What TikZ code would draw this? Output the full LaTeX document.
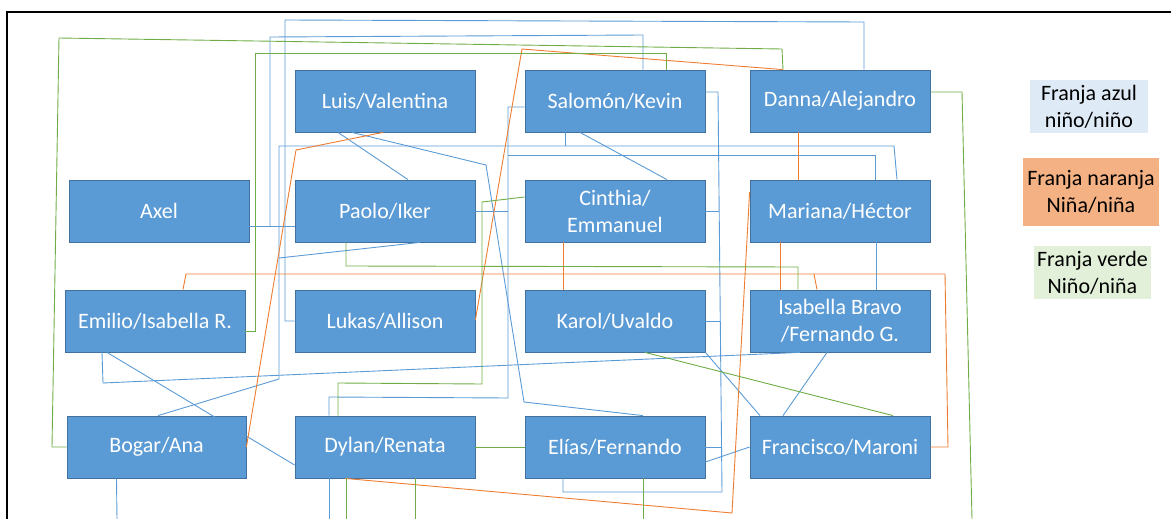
\documentclass[tikz,border=0pt]{standalone}
\usepackage{fontspec}
\setmainfont{Carlito}
\definecolor{boxblue}{HTML}{5B9BD5}
\definecolor{boxedge}{HTML}{41719C}
\definecolor{lblue}{HTML}{5B9BD5}
\definecolor{lorange}{HTML}{ED7D31}
\definecolor{lgreen}{HTML}{70AD47}
\definecolor{legblue}{HTML}{DEEBF7}
\definecolor{legorange}{HTML}{F4B183}
\definecolor{leggreen}{HTML}{E2F0D9}
\tikzset{
  person/.style={rectangle, fill=boxblue, draw=boxedge, line width=0.8pt, text=white,
    minimum width=180pt, minimum height=62pt, inner sep=0pt, align=center,
    font=\fontsize{22}{27}\selectfont},
  legend/.style={rectangle, inner sep=0pt, align=center, text=black,
    font=\fontsize{22}{27}\selectfont},
  bl/.style={draw=lblue, line width=0.9pt},
  ol/.style={draw=lorange, line width=0.9pt},
  gl/.style={draw=lgreen, line width=0.9pt},
}
\begin{document}
\begin{tikzpicture}[x=1pt,y=-1pt]
\useasboundingbox (0,0) rectangle (1171,519);
\draw[line width=2pt] (7,519) -- (7,12) -- (1171,12);

% boxes
\node[person] (luis) at (385,101) {Luis/Valentina};
\node[person] (salo) at (615,101) {Salomón/Kevin};
\node[person] (danna) at (840,101) {Danna/Alejandro};
\node[person] (axel) at (159,211) {Axel};
\node[person] (paolo) at (385,211) {Paolo/Iker};
\node[person] (cinthia) at (615,211) {Cinthia/\\Emmanuel};
\node[person] (mariana) at (840,211) {Mariana/Héctor};
\node[person] (emilio) at (155,321) {Emilio/Isabella R.};
\node[person] (lukas) at (385,321) {Lukas/Allison};
\node[person] (karol) at (615,321) {Karol/Uvaldo};
\node[person] (isabella) at (840,321) {Isabella Bravo\\/Fernando G.};
\node[person, minimum width=179pt] (bogar) at (156.5,447) {Bogar/Ana};
\node[person] (dylan) at (385,447) {Dylan/Renata};
\node[person] (elias) at (615,447) {Elías/Fernando};
\node[person] (francisco) at (840,447) {Francisco/Maroni};

% legend
\node[legend, fill=legblue, minimum width=118pt, minimum height=53pt] (lazul) at (1089,106.5) {Franja azul\\niño/niño};
\node[legend, fill=legorange, minimum width=136pt, minimum height=68pt] (lnar) at (1091,192) {Franja naranja\\Niña/niña};
\node[legend, fill=leggreen, minimum width=117pt, minimum height=53pt] (lver) at (1092.5,272.5) {Franja verde\\Niño/niña};

% free ends and junctions
\coordinate (offA) at (117,519);
\coordinate (offB) at (329,519);
\coordinate (offC) at (346,519);
\coordinate (offD) at (415,519);
\coordinate (offE) at (643,519);
\coordinate (offF) at (972,519);
\coordinate (jA) at (270,226);
\coordinate (jB) at (279,258);
\coordinate (jC) at (565,146);
\coordinate (jD) at (508,211);
\coordinate (jE) at (508,155);
\coordinate (jF) at (719,211);
\coordinate (jG) at (720,321);
\coordinate (jH) at (722,447);
\coordinate (jI) at (814,274);

% blue connectors
\draw[bl] (lukas.west) -- (285,321) -- (285,20) -- (864,22) -- ([xshift=24pt]danna.north);
\draw[bl] ([yshift=-15pt]axel.east) -- ([yshift=-15pt]paolo.west);
\draw[bl] (jA) -- (270,37) -- (643,35) -- ([xshift=28pt]salo.north);
\draw[bl] ([xshift=1.5pt]bogar.north) -- (279,379) -- (279,146) -- (894,146) -- ([xshift=57pt]mariana.north);
\draw[bl] ([xshift=-50pt]salo.south) -- (jC);
\draw[bl] ([xshift=35pt]paolo.south) -- (jB);
\draw[bl] ([yshift=-6pt]salo.west) -- (508,107) -- (508,398) -- (329,397) -- ([xshift=-56pt]dylan.north);
\draw[bl] (paolo.east) -- (jD);
\draw[bl] (jE) -- (875,155) -- ([xshift=35pt]mariana.north);
\draw[bl] ([yshift=9pt]salo.east) -- (718,92) -- (722,492) -- (563,492) -- ([xshift=-52pt]elias.south);
\draw[bl] (cinthia.east) -- (jF);
\draw[bl] (karol.east) -- (jG);
\draw[bl] (elias.east) -- (jH);
\draw[bl] ([xshift=-47pt]luis.south) -- ([xshift=23pt]paolo.north);
\draw[bl] ([xshift=-33pt]luis.south) -- (486,165) -- (524,402) -- ([xshift=28pt]elias.north);
\draw[bl] ([xshift=-35pt]salo.south) -- ([xshift=52pt]cinthia.north);
\draw[bl] ([xshift=-53pt]emilio.south) -- (103,383) -- ([xshift=-40pt]isabella.south);
\draw[bl] ([xshift=-48pt]emilio.south) -- ([yshift=-18pt]dylan.west);
\draw[bl] ([xshift=-40pt]bogar.south) -- (offA);
\draw[bl] ([xshift=-56pt]dylan.south) -- (offB);
\draw[bl] ([xshift=36pt]mariana.south) -- ([xshift=36pt]isabella.north);
\draw[bl] (karol.south east) -- ([xshift=-80pt]francisco.north);
\draw[bl] ([xshift=-13pt]isabella.south) -- ([xshift=-57pt]francisco.north);
\draw[bl] ([yshift=-15pt]elias.east) -- (francisco.west);

% orange connectors
\draw[ol] ([xshift=-2pt]luis.south) -- (296,150) -- (bogar.east);
\draw[ol] ([xshift=28pt]emilio.north) -- (186,274) -- (945,274) -- (948,447) -- (francisco.east);
\draw[ol] (jI) -- ([xshift=-23pt]isabella.north);
\draw[ol] ([xshift=-60pt]mariana.south) -- ([xshift=-60pt]isabella.north);
\draw[ol] ([xshift=-42pt]danna.south) -- ([xshift=-42pt]mariana.north);
\draw[ol] ([yshift=1pt]lukas.east) -- (522,49) -- ([xshift=-57pt]danna.north);
\draw[ol] ([xshift=-52pt]cinthia.south) -- ([xshift=-52pt]karol.north);
\draw[ol] ([xshift=-40pt]dylan.south) -- (732,513) -- ([yshift=19pt]mariana.west);

% green connectors
\draw[gl] (bogar.west) -- (52,447) -- (59,38) -- (782,49) -- ([xshift=-57pt]danna.north);
\draw[gl] ([yshift=-10pt]emilio.east) -- (255,331) -- (255,53) -- (666,53) -- ([xshift=51pt]salo.north);
\draw[gl] ([xshift=-39pt]paolo.south) -- (346,266) -- (798,267) -- ([xshift=-42pt]isabella.north);
\draw[gl] ([yshift=9pt]danna.east) -- (962,92) -- (offF);
\draw[gl] ([yshift=14pt]cinthia.west) -- (482,202) -- (482,384) -- (338,383) -- ([xshift=-47pt]dylan.north);
\draw[gl] ([xshift=30pt]karol.south) -- ([xshift=53pt]francisco.north);
\draw[gl] (dylan.east) -- (elias.west);
\draw[gl] ([xshift=-39pt]dylan.south) -- (offC);
\draw[gl] ([xshift=30pt]dylan.south) -- (offD);
\draw[gl] ([xshift=28pt]elias.south) -- (offE);
\end{tikzpicture}
\end{document}
